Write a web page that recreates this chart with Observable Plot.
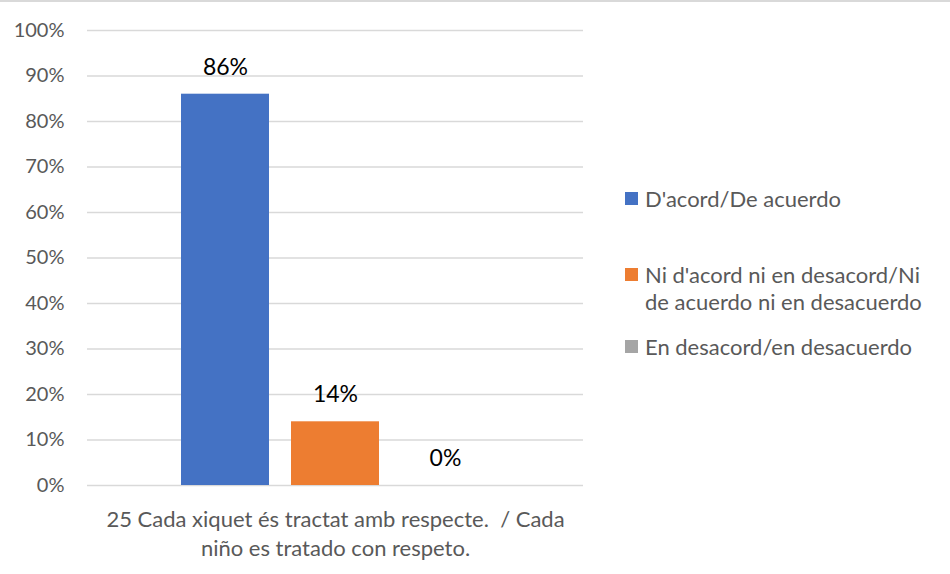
<!DOCTYPE html>
<html>
<head>
<meta charset="utf-8">
<script src="https://cdn.jsdelivr.net/npm/d3@7"></script>
<script src="https://cdn.jsdelivr.net/npm/@observablehq/plot@0.6"></script>
<style>
  html, body { margin: 0; padding: 0; background: #fff; }
  #wrap { position: relative; width: 950px; height: 574px; font-family: Lato, "Open Sans", sans-serif; }
  #topline { position: absolute; left: 0; top: 0; width: 950px; height: 2px; background: #d9d9d9; }
  .leg { position: absolute; left: 625px; color: #595959; font-size: 22px; line-height: 27px; }
  .leg .sw { position: absolute; left: 0; top: 7px; width: 13px; height: 13px; }
  .leg .tx { margin-left: 20px; width: 290px; }
</style>
</head>
<body>
<div id="wrap"><div id="topline"></div></div>
<script>
const categoryLines = ["25 Cada xiquet és tractat amb respecte.  / Cada", "niño es tratado con respeto."];
const category = categoryLines.join(" ");
const series = ["D'acord/De acuerdo", "Ni d'acord ni en desacord/Ni de acuerdo ni en desacuerdo", "En desacord/en desacuerdo"];
const values = [0.86, 0.14, 0.0];
const colors = ["#4472C4", "#ED7D31", "#A5A5A5"];
const yTicks = [0, 0.1, 0.2, 0.3, 0.4, 0.5, 0.6, 0.7, 0.8, 0.9, 1.0];

const data = series.map((s, i) => ({category, series: s, value: values[i]}));
const pct = v => Math.round(v * 100) + "%";

const chart = Plot.plot({
  width: 950,
  height: 574,
  marginTop: 30,
  marginBottom: 89,
  marginLeft: 87,
  marginRight: 367,
  style: {fontFamily: "Lato, 'Open Sans', sans-serif", background: "transparent"},
  fx: {domain: [category], padding: 0, label: null},
  x: {domain: series, paddingInner: 0.2, paddingOuter: 0.8545, axis: null},
  y: {domain: [0, 1], axis: null},
  color: {domain: series, range: colors},
  marks: [
    Plot.ruleY(yTicks, {stroke: "#d9d9d9", strokeWidth: 1.3}),
    Plot.axisY(yTicks, {
      tickSize: 0, tickPadding: 23, tickFormat: pct, fontSize: 20, fill: "#595959", label: null, anchor: "left"
    }),
    Plot.barY(data, {fx: "category", x: "series", y: "value", fill: "series"}),
    Plot.text(data, {fx: "category", x: "series", y: "value", text: d => pct(d.value), dy: -27, fontSize: 23, fill: "#000"}),
    Plot.axisFx({
      anchor: "bottom", tickSize: 0, tickPadding: 21, fontSize: 22, fill: "#595959", label: null,
      tickFormat: () => categoryLines.join("\n"), lineHeight: 1.32
    })
  ]
});

const wrap = document.getElementById("wrap");
wrap.insertBefore(chart, wrap.firstChild);

const legendTops = [185, 261, 333];
series.forEach((s, i) => {
  const item = document.createElement("div");
  item.className = "leg";
  item.style.top = legendTops[i] + "px";
  const sw = document.createElement("div");
  sw.className = "sw";
  sw.style.background = colors[i];
  const tx = document.createElement("div");
  tx.className = "tx";
  tx.textContent = s;
  item.appendChild(sw);
  item.appendChild(tx);
  wrap.appendChild(item);
});
</script>
</body>
</html>
